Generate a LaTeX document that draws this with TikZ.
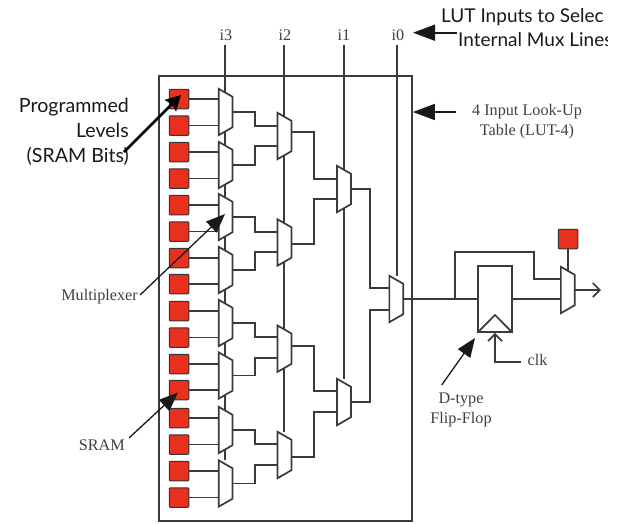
\documentclass[tikz,border=0pt]{standalone}
\usepackage{fontspec}
\setmainfont{Liberation Serif}
\newfontfamily\lat{Lato}
\usetikzlibrary{arrows.meta,backgrounds,calc}
\definecolor{ink}{HTML}{3A3A3A}
\definecolor{bitred}{HTML}{E8301F}
\tikzset{
  wire/.style={draw=ink,line width=1.7pt,line join=miter},
  bit/.style={draw=ink!90!black,line width=1pt,fill=bitred,minimum width=19.5pt,minimum height=19.5pt,inner sep=0pt,rounded corners=0.8pt},
  muxbox/.style={minimum width=13.5pt,minimum height=46pt,inner sep=0pt},
  muxshape/.style={draw=ink,line width=1.7pt,fill=white,line join=miter},
  serif/.style={font=\fontsize{16.2}{20}\selectfont,text=black!75,inner sep=0pt,align=center},
  sans/.style={font=\lat\fontsize{19}{25}\selectfont,text=black!90,inner sep=0pt},
  pointer/.style={draw=black!90,line width=1.3pt,-{Triangle[length=19pt,width=15pt]}},
  bigpointer/.style={draw=black!90,line width=1.6pt,-{Triangle[length=22pt,width=16pt]}},
  fatpointer/.style={draw=black,line width=2.6pt,-{Stealth[length=15pt,width=16pt,inset=2pt]}},
  openhead/.style={draw=ink,line width=1.7pt,-{Straight Barb[length=7pt,width=14pt,line width=1.7pt]}}
}
\newcommand{\muxn}[3]{%
  \node[muxbox] (#1) at (#2,#3) {};
  \draw[muxshape] (#1.north west) -- ([yshift=-8pt]#1.north east) -- ([yshift=8pt]#1.south east) -- (#1.south west) -- cycle;
}
\begin{document}
\begin{tikzpicture}[x=1pt,y=-1pt]
\useasboundingbox (0,0) rectangle (621,523);
% LUT box
\node[draw=ink,line width=1.7pt,minimum width=253pt,minimum height=445pt,inner sep=0pt] (lut) at (285.5,298.5) {};
% SRAM bits
\node[bit] (s1) at (179,99) {};
\node[bit] (s2) at (179,125.5) {};
\node[bit] (s3) at (179,152) {};
\node[bit] (s4) at (179,178.5) {};
\node[bit] (s5) at (179,205) {};
\node[bit] (s6) at (179,231.5) {};
\node[bit] (s7) at (179,258) {};
\node[bit] (s8) at (179,284) {};
\node[bit] (s9) at (179,311) {};
\node[bit] (s10) at (179,337.5) {};
\node[bit] (s11) at (179,364) {};
\node[bit] (s12) at (179,390) {};
\node[bit] (s13) at (179,418) {};
\node[bit] (s14) at (179,444.5) {};
\node[bit] (s15) at (179,471) {};
\node[bit] (s16) at (179,497.5) {};
% select labels
\node[serif] (i3) at (226,35) {i3};
\node[serif] (i2) at (285,35) {i2};
\node[serif] (i1) at (344,35) {i1};
\node[serif] (i0) at (398,35) {i0};
% muxes
\muxn{a1}{225.6}{112}
\muxn{a2}{225.6}{165}
\muxn{a3}{225.6}{217}
\muxn{a4}{225.6}{270}
\muxn{a5}{225.6}{323}
\muxn{a6}{225.6}{375.5}
\muxn{a7}{225.6}{430}
\muxn{a8}{225.6}{483.5}
\muxn{b1}{284.5}{136}
\muxn{b2}{284.5}{242.5}
\muxn{b3}{284.5}{348.7}
\muxn{b4}{284.5}{455}
\muxn{c1}{344}{189}
\muxn{c2}{344}{402}
\muxn{d1}{396.3}{299}
% select lines, behind the muxes
\begin{pgfonlayer}{background}
\draw[wire] (225.2,45) -- (a8.north -| 225.2,0);
\draw[wire] (284,45) -- (b4.north -| 284,0);
\draw[wire] (344,45) -- (c2.north);
\draw[wire] (397,45) -- (d1.north -| 397,0);
\end{pgfonlayer}
% first level inputs
\foreach \s/\m in {s1/a1,s2/a1,s3/a2,s4/a2,s5/a3,s6/a3,s7/a4,s8/a4,s9/a5,s10/a5,s11/a6,s12/a6,s13/a7,s14/a7,s15/a8,s16/a8}
  \draw[wire] (\s.east) -- (\m.west |- \s.east);
% first to second level
\draw[wire] (a1.east) -| (255,125.7) -- (b1.west |- 0,125.7);
\draw[wire] (a2.east) -| (255,146) -- (b1.west |- 0,146);
\draw[wire] (a3.east) -| (255,231.7) -- (b2.west |- 0,231.7);
\draw[wire] (a4.east) -| (255,251.7) -- (b2.west |- 0,251.7);
\draw[wire] (a5.east) -| (255,337) -- (b3.west |- 0,337);
\draw[wire] (a6.east) -| (255,357.7) -- (b3.west |- 0,357.7);
\draw[wire] (a7.east) -| (255,444) -- (b4.west |- 0,444);
\draw[wire] (a8.east) -| (255,465) -- (b4.west |- 0,465);
% second to third level
\draw[wire] (b1.east |- 0,132.3) -| (314,179) -- (c1.west |- 0,179);
\draw[wire] (b2.east |- 0,244) -| (314,199) -- (c1.west |- 0,199);
\draw[wire] (b3.east |- 0,345.7) -| (314,391) -- (c2.west |- 0,391);
\draw[wire] (b4.east |- 0,456.7) -| (314,411.7) -- (c2.west |- 0,411.7);
% third to fourth level
\draw[wire] (c1.east) -| (370,287.7) -- (d1.west |- 0,287.7);
\draw[wire] (c2.east) -| (370,310) -- (d1.west |- 0,310);
% flip-flop
\node[draw=ink,line width=1.7pt,minimum width=33.7pt,minimum height=66pt,inner sep=0pt] (ff) at (495,299) {};
\coordinate (trip) at (495,315);
\draw[wire] (ff.south west) -- (trip) -- (ff.south east);
\coordinate (split) at (455,299);
\draw[wire] (d1.east) -- (ff.west);
% output mux and control bit
\node[bit] (r) at (568,239) {};
\draw[wire] (r.south) -- (568,275);
\muxn{e1}{567.8}{290}
\draw[wire] (split) -- (455,252) -- (534,252) -- (534,279) -- (e1.west |- 0,279);
\draw[wire] (ff.east) -- (e1.west |- ff.east);
\coordinate (outtip) at (601,290);
\draw[openhead] (e1.east) -- (outtip);
% clk
\node[serif,anchor=west] (clk) at (527.5,360) {clk};
\draw[openhead] ([shift={(-6.5pt,-2pt)}]clk.west) -| (ff.south);
% D-type
\node[serif] (dff) at (461,410) {D-type\\Flip-Flop};
\coordinate (dfftip) at (475,338);
\coordinate (dfftail) at (441.7,385);
\draw[pointer] (dfftail) -- (dfftip);
% LUT-4 label
\node[serif] (lutlabel) at (527,122) {4 Input Look-Up\\Table (LUT-4)};
\coordinate (luttail) at (456,112);
\draw[bigpointer] (luttail) -- (lut.east |- luttail);
% LUT inputs label, cut off at the right as in the picture
\begin{scope}
\clip (430,0) rectangle (607,60);
\node[sans,anchor=west] (title1) at (441,17) {LUT Inputs to Selec};
\node[sans,anchor=west] (title2) at (458,40) {Internal Mux Lines};
\end{scope}
\coordinate (toptail) at (457,32.7);
\coordinate (toptip) at (413,32.7);
\draw[bigpointer] (toptail) -- (toptip);
% left labels
\node[sans,anchor=east,align=right,font=\lat\fontsize{19.6}{25}\selectfont] (prog) at (129,132) {Programmed\\Levels\\(SRAM Bits)};
\coordinate (progtail) at (124,152);
\coordinate (progtip) at (181,95);
\draw[fatpointer] (progtail) -- (progtip);
\node[serif,anchor=east] (muxlabel) at (138,297) {Multiplexer};
\coordinate (muxtip) at (225,214);
\draw[pointer] ([xshift=2pt,yshift=2pt]muxlabel.east) -- (muxtip);
\node[serif,anchor=east] (sramlabel) at (125,445) {SRAM};
\coordinate (sramtip) at (178,392.5);
\draw[pointer] ([xshift=4pt,yshift=7pt]sramlabel.east) -- (sramtip);
\end{tikzpicture}
\end{document}
